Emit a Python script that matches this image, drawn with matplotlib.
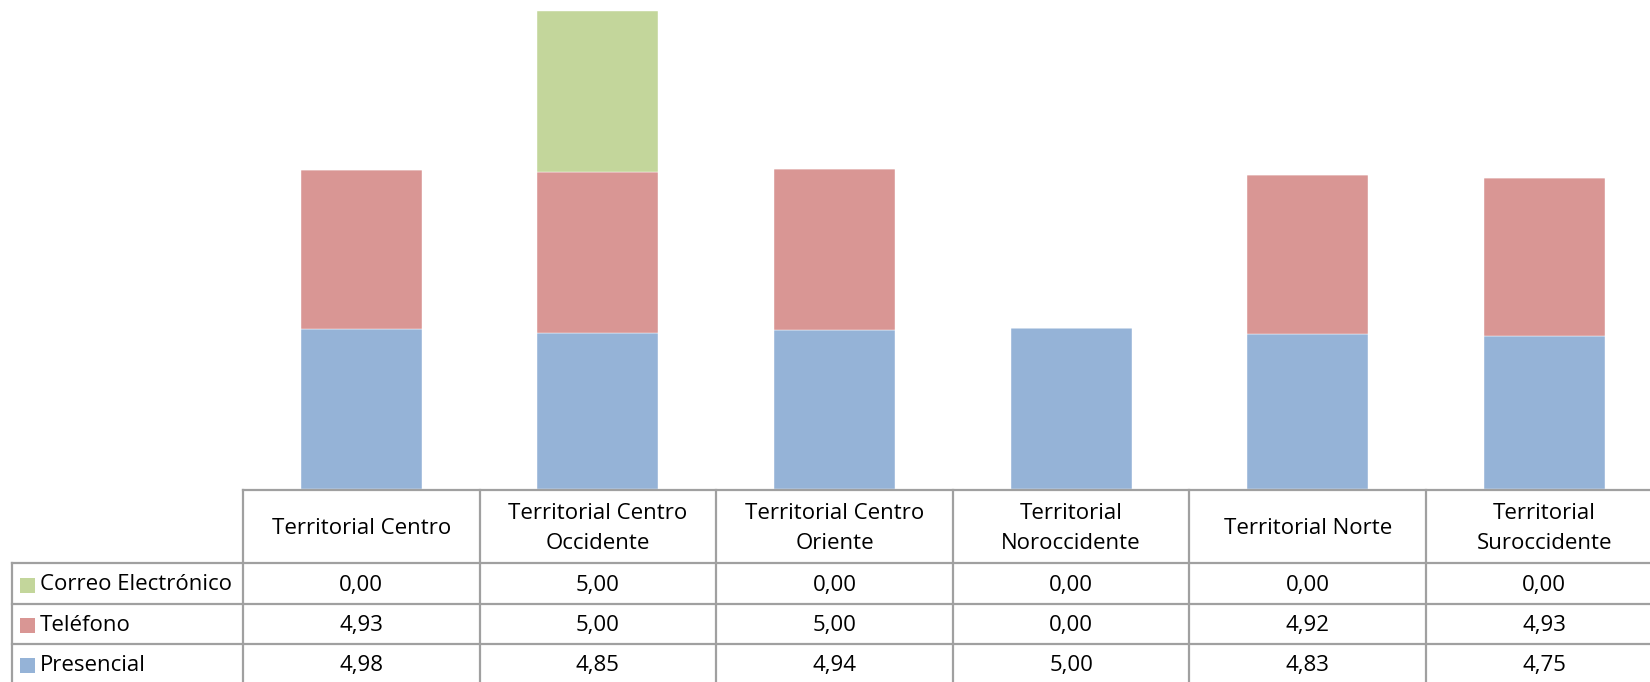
import matplotlib
matplotlib.use("Agg")
import matplotlib.pyplot as plt
from matplotlib.patches import Rectangle
from matplotlib.lines import Line2D
import numpy as np

categories = ["Territorial Centro", "Territorial Centro\nOccidente", "Territorial Centro\nOriente",
              "Territorial\nNoroccidente", "Territorial Norte", "Territorial\nSuroccidente"]
presencial = [4.98, 4.85, 4.94, 5.00, 4.83, 4.75]
telefono = [4.93, 5.00, 5.00, 0.00, 4.92, 4.93]
correo = [0.00, 5.00, 0.00, 0.00, 0.00, 0.00]
series_names = ["Correo Electrónico", "Teléfono", "Presencial"]
colors = {"Presencial": "#95B3D7", "Teléfono": "#D99694", "Correo Electrónico": "#C3D69B"}

W, H = 1650, 682
fig = plt.figure(figsize=(W / 100, H / 100), dpi=100)
plt.rcParams['font.family'] = ['Open Sans', 'DejaVu Sans']

x0 = 243
col_w = 236.6
x1 = x0 + col_w * len(categories)
base_y = 489
ax = fig.add_axes([x0 / W, (H - base_y) / H, (x1 - x0) / W, base_y / H])
x = np.arange(len(categories))
bw = 0.512
p = np.array(presencial); t = np.array(telefono); c = np.array(correo)
ax.bar(x, p, bw, color=colors["Presencial"], edgecolor="white", linewidth=0.3)
ax.bar(x, t, bw, bottom=p, color=colors["Teléfono"], edgecolor="white", linewidth=0.3)
ax.bar(x, c, bw, bottom=p + t, color=colors["Correo Electrónico"], edgecolor="white", linewidth=0.3)
ax.set_xlim(-0.5, len(categories) - 0.5)
ax.set_ylim(0, 14.85 * base_y / (base_y - 11.5))
ax.axis("off")

def px(xp, yp):
    return xp / W, 1 - yp / H

lc = "#A0A0A0"
lw = 1.6
rows_y = [490, 563, 604, 644, 684]
left_x = 11.5

def hline(xa, xb, y):
    fig.add_artist(Line2D([xa / W, xb / W], [1 - y / H, 1 - y / H], color=lc, lw=lw))

def vline(xp, ya, yb):
    fig.add_artist(Line2D([xp / W, xp / W], [1 - ya / H, 1 - yb / H], color=lc, lw=lw))

hline(x0, W, rows_y[0])
for y in rows_y[1:4]:
    hline(left_x, W, y)
vline(left_x, rows_y[1], H)
for k in range(len(categories)):
    vline(x0 + k * col_w, rows_y[0], H)

fs = 16
for i, cat in enumerate(categories):
    cx = x0 + (i + 0.5) * col_w
    cy = (rows_y[0] + rows_y[1]) / 2 + 2
    fig.text(*px(cx, cy), cat, ha="center", va="center", fontsize=fs, linespacing=1.55, color="black")

table_vals = {"Correo Electrónico": correo, "Teléfono": telefono, "Presencial": presencial}
for r, name in enumerate(series_names):
    ya, yb = rows_y[r + 1], rows_y[r + 2]
    cy = (ya + min(yb, H + 4)) / 2 + 1.5
    sw = 15
    fig.add_artist(Rectangle((20 / W, 1 - (cy + sw / 2) / H), sw / W, sw / H,
                             transform=fig.transFigure, color=colors[name], lw=0))
    fig.text(*px(40, cy), name, ha="left", va="center", fontsize=fs, color="black")
    for i, v in enumerate(table_vals[name]):
        cx = x0 + (i + 0.5) * col_w
        fig.text(*px(cx, cy), f"{v:.2f}".replace(".", ","), ha="center", va="center",
                 fontsize=fs, color="black")

fig.savefig("out.png", dpi=100)
